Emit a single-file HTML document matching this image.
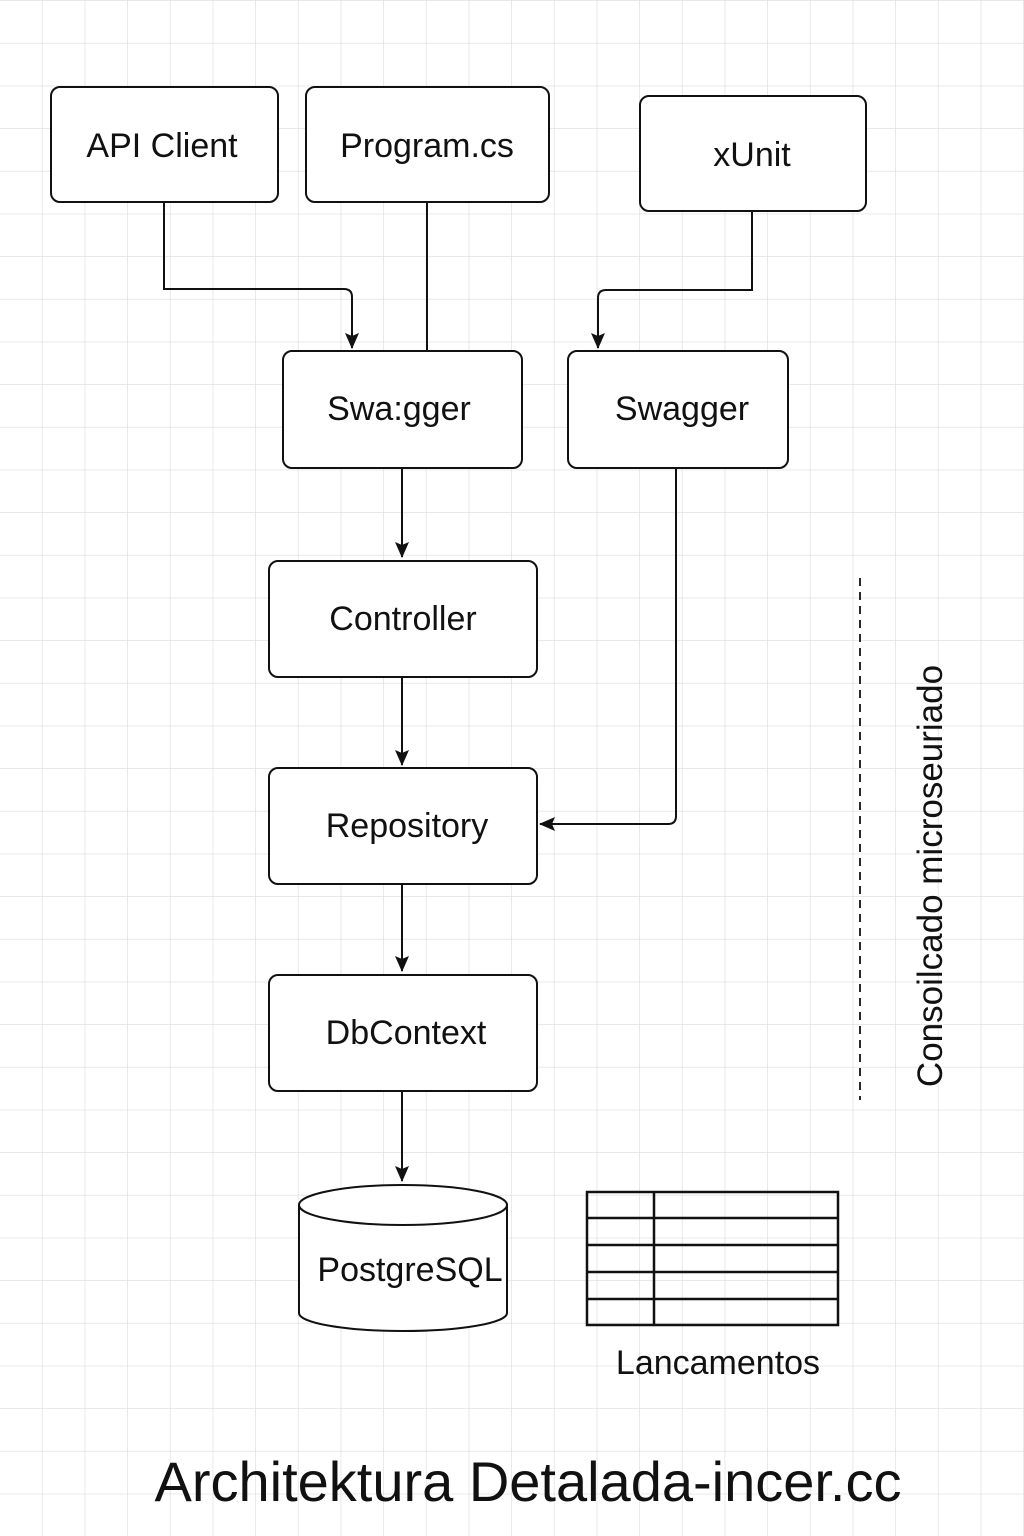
<!DOCTYPE html>
<html><head><meta charset="utf-8"><style>
html,body{margin:0;padding:0;background:#fff}
svg{display:block}
text{font-family:"Liberation Sans",Arial,sans-serif;fill:#111}
</style></head><body>
<svg width="1024" height="1536" viewBox="0 0 1024 1536" xmlns="http://www.w3.org/2000/svg">
<defs>
<pattern id="g" width="42.667" height="42.667" patternUnits="userSpaceOnUse" x="0" y="1">
<path d="M42.667 0V42.667M0 42.667H42.667" stroke="#e2e2e2" stroke-width="1.5" fill="none"/>
</pattern>
<marker id="a" markerWidth="16" markerHeight="16" refX="15" refY="8" orient="auto" markerUnits="userSpaceOnUse">
<path d="M0 1L16 8L0 15L3 8Z" fill="#111"/>
</marker>
</defs>
<rect width="1024" height="1536" fill="#fff"/>
<rect width="1024" height="1536" fill="url(#g)"/>
<g fill="#fff" stroke="#111" stroke-width="2">
<rect x="51" y="87" width="227" height="115" rx="9"/>
<rect x="306" y="87" width="243" height="115" rx="9"/>
<rect x="640" y="96" width="226" height="115" rx="9"/>
<rect x="283" y="351" width="239" height="117" rx="9"/>
<rect x="568" y="351" width="220" height="117" rx="9"/>
<rect x="269" y="561" width="268" height="116" rx="9"/>
<rect x="269" y="768" width="268" height="116" rx="9"/>
<rect x="269" y="975" width="268" height="116" rx="9"/>
</g>
<g fill="none" stroke="#111" stroke-width="2">
<path d="M164 202V289H344Q352 289 352 297V348" marker-end="url(#a)"/>
<path d="M427 202V351"/>
<path d="M752 211V290H606Q598 290 598 298V348" marker-end="url(#a)"/>
<path d="M402 468V557" marker-end="url(#a)"/>
<path d="M402 677V765" marker-end="url(#a)"/>
<path d="M676 468V816Q676 824 668 824H540" marker-end="url(#a)"/>
<path d="M402 884V971" marker-end="url(#a)"/>
<path d="M402 1091V1181" marker-end="url(#a)"/>
<path d="M860 578V1100" stroke-dasharray="8 6" stroke-width="1.8"/>
</g>
<g fill="#fff" stroke="#111" stroke-width="2">
<path d="M299 1205V1313A104 18 0 0 0 507 1313V1205"/>
<ellipse cx="403" cy="1205" rx="104" ry="20"/>
</g>
<g fill="none" stroke="#111" stroke-width="2.5">
<rect x="587" y="1192" width="251" height="133"/>
<path d="M587 1218H838M587 1245H838M587 1272H838M587 1299H838M654 1192V1325"/>
</g>
<g font-size="34" text-anchor="middle">
<text x="162" y="157">API Client</text>
<text x="427" y="157">Program.cs</text>
<text x="752" y="166">xUnit</text>
<text x="399" y="420">Swa:gger</text>
<text x="682" y="420">Swagger</text>
<text x="403" y="630">Controller</text>
<text x="407" y="837">Repository</text>
<text x="406" y="1044">DbContext</text>
<text x="410" y="1281">PostgreSQL</text>
<text x="718" y="1374">Lancamentos</text>
<text transform="translate(942 876) rotate(-90)" font-size="35">Consoilcado microseuriado</text>
<text x="528" y="1501" font-size="56">Architektura Detalada-incer.cc</text>
</g>
</svg>
</body></html>
